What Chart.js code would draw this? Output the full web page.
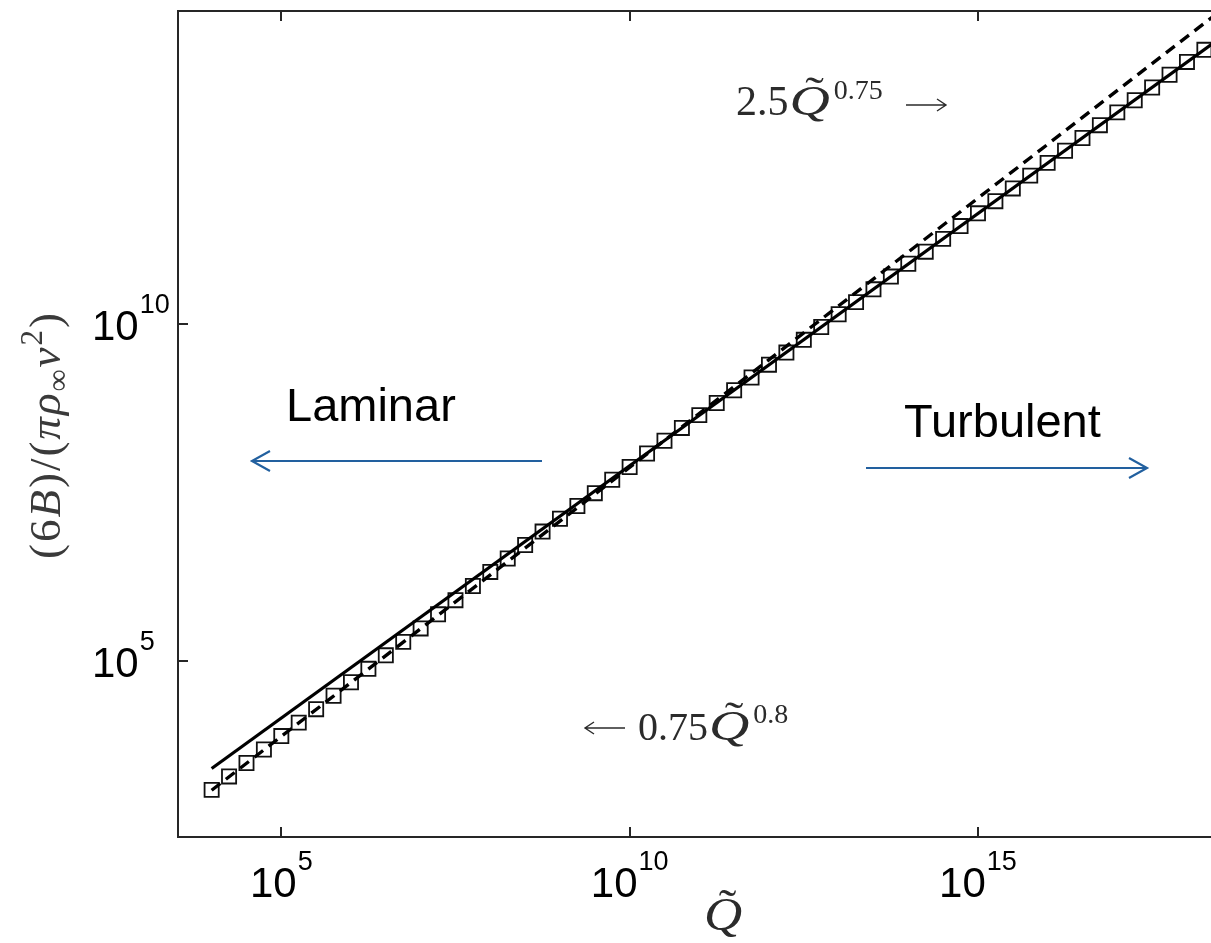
<!DOCTYPE html>
<html>
<head>
<meta charset="utf-8">
<title>Plume buoyancy against source parameter</title>
<script src="https://cdn.jsdelivr.net/npm/chart.js@4.4.1/dist/chart.umd.min.js"></script>
<style>
  html, body { margin: 0; padding: 0; background: #fff; overflow: hidden; }
  canvas { display: block; }
</style>
</head>
<body>
<canvas id="chart" width="1211" height="943"></canvas>
<script>
// log10 of Q~ for the computed points
const qExp = [
  4.00, 4.25, 4.50, 4.75, 5.00, 5.25, 5.50, 5.75, 6.00, 6.25,
  6.50, 6.75, 7.00, 7.25, 7.50, 7.75, 8.00, 8.25, 8.50, 8.75,
  9.00, 9.25, 9.50, 9.75, 10.00, 10.25, 10.50, 10.75, 11.00, 11.25,
  11.50, 11.75, 12.00, 12.25, 12.50, 12.75, 13.00, 13.25, 13.50, 13.75,
  14.00, 14.25, 14.50, 14.75, 15.00, 15.25, 15.50, 15.75, 16.00, 16.25,
  16.50, 16.75, 17.00, 17.25, 17.50, 17.75, 18.00, 18.25
];
// log10 of (6B)/(pi rho_inf nu^2) for the same points
const bExp = [
  3.08, 3.28, 3.48, 3.68, 3.88, 4.08, 4.28, 4.48, 4.68, 4.88,
  5.08, 5.28, 5.48, 5.69, 5.90, 6.11, 6.32, 6.52, 6.72, 6.92,
  7.11, 7.30, 7.49, 7.69, 7.88, 8.08, 8.27, 8.46, 8.65, 8.83,
  9.02, 9.21, 9.40, 9.58, 9.77, 9.96, 10.15, 10.33, 10.52, 10.71,
  10.90, 11.08, 11.27, 11.46, 11.65, 11.83, 12.02, 12.21, 12.40, 12.58,
  12.77, 12.96, 13.15, 13.33, 13.52, 13.71, 13.90, 14.08
];

// power-law fits: coefficient * Q^power, drawn over this Q range
const fitCoef = [2.5, 0.75];      // turbulent, laminar
const fitPow = [0.75, 0.8];
const fitQExp = [4.0, 18.4];

const xTickExp = [5, 10, 15];
const yTickExp = [5, 10];
const xRangeExp = [3.517, 18.345];
const yRangeExp = [2.38, 14.657];

const SANS = '"Liberation Sans", Arial, sans-serif';
const SERIF = '"Liberation Serif", "Times New Roman", serif';
const MATH = '#2b2b2b';
const BLUE = '#22609f';

const pow10 = e => Math.pow(10, e);

const points = qExp.map((q, i) => ({ x: pow10(q), y: pow10(bExp[i]) }));
const fitLine = k => fitQExp.map(e => ({ x: pow10(e), y: fitCoef[k] * Math.pow(pow10(e), fitPow[k]) }));

// italic Q with a tilde, a little wider than the plain face
function tildeQ(ctx, x, y, size, stretch) {
  ctx.save();
  ctx.translate(x, y);
  ctx.scale(stretch, 1);
  ctx.font = 'italic ' + size + 'px ' + SERIF;
  ctx.textAlign = 'left';
  ctx.fillText('Q', 0, 0);
  const w = ctx.measureText('Q').width;
  ctx.font = size + 'px ' + SERIF;
  ctx.textAlign = 'center';
  ctx.fillText('\u02DC', w * 0.62, -size * 0.2);
  ctx.restore();
  return w * stretch;
}

function arrow(ctx, from, tip, y, head, spread) {
  const dir = Math.sign(tip - from);
  ctx.beginPath();
  ctx.moveTo(from, y);
  ctx.lineTo(tip, y);
  ctx.moveTo(tip - dir * head, y - spread);
  ctx.lineTo(tip, y);
  ctx.lineTo(tip - dir * head, y + spread);
  ctx.stroke();
}

// box, inward ticks
const axesFrame = {
  id: 'axesFrame',
  afterDatasetsDraw(chart) {
    const { ctx, chartArea: a, scales: { x, y } } = chart;
    ctx.save();
    ctx.strokeStyle = '#262626';
    ctx.lineWidth = 2;
    ctx.beginPath();
    ctx.moveTo(a.right + 4, a.top);
    ctx.lineTo(a.left, a.top);
    ctx.lineTo(a.left, a.bottom);
    ctx.lineTo(a.right + 4, a.bottom);
    xTickExp.forEach(e => {
      const px = Math.round(x.getPixelForValue(pow10(e)));
      ctx.moveTo(px, a.bottom); ctx.lineTo(px, a.bottom - 10);
      ctx.moveTo(px, a.top); ctx.lineTo(px, a.top + 10);
    });
    yTickExp.forEach(e => {
      const py = Math.round(y.getPixelForValue(pow10(e)));
      ctx.moveTo(a.left, py); ctx.lineTo(a.left + 10, py);
    });
    ctx.stroke();
    ctx.restore();
  }
};

// tick labels, axis titles and the notes on the plot
const textLayer = {
  id: 'textLayer',
  afterDraw(chart) {
    const { ctx, scales: { x, y } } = chart;
    ctx.save();
    ctx.textBaseline = 'alphabetic';
    ctx.fillStyle = '#000';

    xTickExp.forEach(e => {
      const px = x.getPixelForValue(pow10(e));
      ctx.font = '42px ' + SANS;
      const w1 = ctx.measureText('10').width;
      ctx.font = '27px ' + SANS;
      const w2 = ctx.measureText(String(e)).width;
      const x0 = px - (w1 + w2 + 1) / 2;
      ctx.font = '42px ' + SANS;
      ctx.fillText('10', x0, 897);
      ctx.font = '27px ' + SANS;
      ctx.fillText(String(e), x0 + w1 + 1, 870);
    });
    yTickExp.forEach(e => {
      const py = y.getPixelForValue(pow10(e));
      ctx.font = '42px ' + SANS;
      const w1 = ctx.measureText('10').width;
      ctx.fillText('10', 92, py + 16);
      ctx.font = '27px ' + SANS;
      ctx.fillText(String(e), 92 + w1 + 1, py - 11);
    });

    // Laminar / Turbulent
    ctx.font = '47px ' + SANS;
    ctx.fillText('Laminar', 286, 421);
    ctx.fillText('Turbulent', 904, 437);
    ctx.strokeStyle = BLUE;
    ctx.lineWidth = 2.2;
    arrow(ctx, 542, 252, 461, 18, 10);
    arrow(ctx, 866, 1147, 468, 18, 10);

    // fit labels
    ctx.fillStyle = MATH;
    ctx.strokeStyle = MATH;
    ctx.lineWidth = 1.4;
    ctx.font = '42px ' + SERIF;
    ctx.fillText('2.5', 736, 115);
    let qx = 736 + ctx.measureText('2.5').width + 1;
    qx += tildeQ(ctx, qx, 115, 43, 1.3);
    ctx.font = '28px ' + SERIF;
    ctx.fillText('0.75', qx + 4, 99);
    arrow(ctx, 906, 946, 105, 9, 6);

    arrow(ctx, 625, 585, 728, 9, 6);
    ctx.font = '40px ' + SERIF;
    ctx.fillText('0.75', 638, 740);
    qx = 638 + ctx.measureText('0.75').width + 1;
    qx += tildeQ(ctx, qx, 740, 43, 1.3);
    ctx.font = '28px ' + SERIF;
    ctx.fillText('0.8', qx + 4, 723);

    // x title
    ctx.font = 'italic 46px ' + SERIF;
    const qw = ctx.measureText('Q').width * 1.15;
    tildeQ(ctx, 723 - qw / 2, 930, 46, 1.15);

    // y title, rotated
    ctx.fillStyle = '#3a3a3a';
    ctx.letterSpacing = '2px';
    const runs = [
      { t: '(6', f: '45px ' + SERIF },
      { t: 'B', f: 'italic 45px ' + SERIF },
      { t: ')/(', f: '45px ' + SERIF },
      { t: '\u03C0\u03C1', f: 'italic 45px ' + SERIF },
      { t: '\u221E', f: '31px ' + SERIF, dy: 8 },
      { t: '\u03BD', f: 'italic 45px ' + SERIF },
      { t: '2', f: '31px ' + SERIF, dy: -18 },
      { t: ')', f: '45px ' + SERIF }
    ];
    let total = 0;
    runs.forEach(r => { ctx.font = r.f; r.w = ctx.measureText(r.t).width; total += r.w; });
    ctx.translate(60, 435);
    ctx.rotate(-Math.PI / 2);
    let u = -total / 2;
    runs.forEach(r => {
      ctx.font = r.f;
      ctx.fillText(r.t, u, r.dy || 0);
      u += r.w;
    });
    ctx.restore();
  }
};

new Chart(document.getElementById('chart').getContext('2d'), {
  type: 'scatter',
  data: {
    datasets: [
      {
        label: 'computed',
        data: points,
        showLine: false,
        pointStyle: 'rect',
        pointRadius: 10,
        pointBorderWidth: 1.8,
        borderColor: '#111',
        backgroundColor: 'rgba(255,255,255,0)',
        order: 2
      },
      {
        label: '2.5 Q^0.75',
        data: fitLine(0),
        showLine: true,
        borderColor: '#000',
        borderWidth: 3.2,
        pointRadius: 0,
        order: 1
      },
      {
        label: '0.75 Q^0.8',
        data: fitLine(1),
        showLine: true,
        borderColor: '#000',
        borderWidth: 3.4,
        borderDash: [11, 7],
        pointRadius: 0,
        order: 1
      }
    ]
  },
  options: {
    responsive: false,
    animation: false,
    devicePixelRatio: 1,
    layout: { autoPadding: false, padding: { top: 11, right: 0, bottom: 0, left: 0 } },
    plugins: { legend: { display: false }, tooltip: { enabled: false } },
    scales: {
      x: {
        type: 'logarithmic',
        min: pow10(xRangeExp[0]),
        max: pow10(xRangeExp[1]),
        grid: { display: false },
        border: { display: false },
        ticks: { display: false },
        afterBuildTicks: s => { s.ticks = xTickExp.map(e => ({ value: pow10(e) })); },
        afterFit: s => { s.height = 106; s.paddingLeft = 0; s.paddingRight = 0; }
      },
      y: {
        type: 'logarithmic',
        min: pow10(yRangeExp[0]),
        max: pow10(yRangeExp[1]),
        grid: { display: false },
        border: { display: false },
        ticks: { display: false },
        afterBuildTicks: s => { s.ticks = yTickExp.map(e => ({ value: pow10(e) })); },
        afterFit: s => { s.width = 178; s.paddingTop = 0; s.paddingBottom = 0; }
      }
    }
  },
  plugins: [axesFrame, textLayer]
});
</script>
</body>
</html>
